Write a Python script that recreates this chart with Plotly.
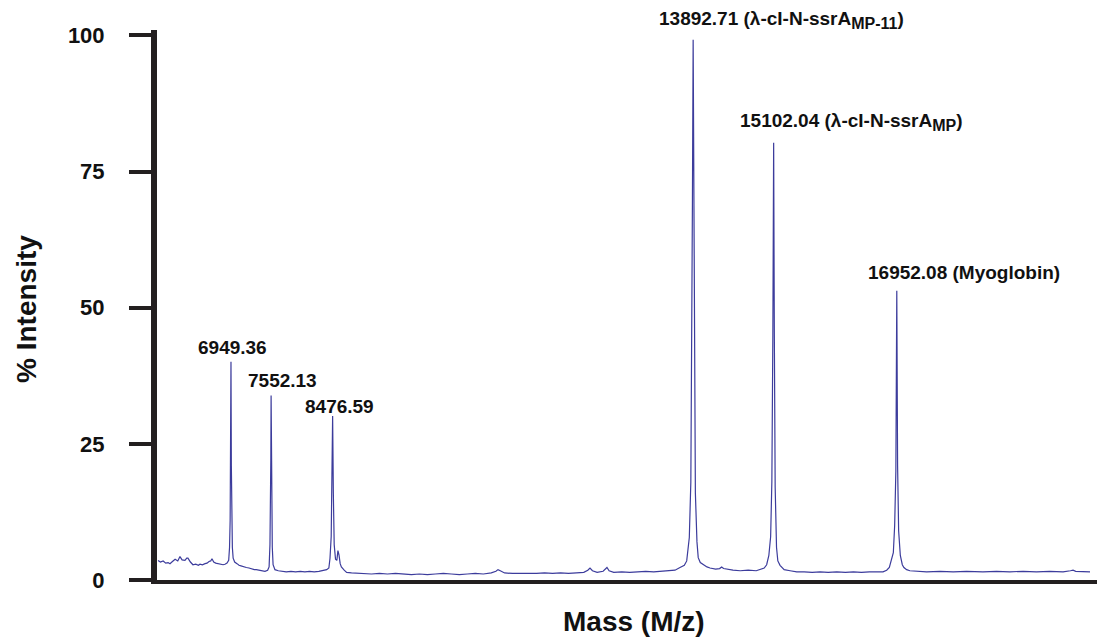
import plotly.graph_objects as go

# Spectrum: mass (Da) and % intensity
mass = [
    5853, 5890, 5930, 5970, 6005, 6033, 6070, 6110, 6150, 6183, 6215, 6258, 6285, 6303,
    6340, 6378, 6420, 6460, 6484, 6520, 6560, 6589, 6620, 6645, 6664, 6690, 6720, 6754,
    6790, 6830, 6859, 6890, 6915, 6928, 6937, 6943, 6949.36, 6955, 6961, 6970, 6982,
    7005, 7040, 7070, 7100, 7140, 7180, 7220, 7260, 7300, 7330, 7380, 7420, 7460, 7500,
    7522, 7535, 7544, 7548, 7552.13, 7557, 7562, 7570, 7582, 7610, 7660, 7720, 7780,
    7850, 7920, 7990, 8060, 8130, 8200, 8270, 8340, 8387, 8420, 8437, 8455, 8466,
    8476.59, 8487, 8500, 8520, 8540, 8556, 8572, 8590, 8608, 8650, 8687, 8760, 8860,
    8960, 9060, 9180, 9300, 9420, 9540, 9660, 9780, 9900, 10020, 10140, 10260, 10380,
    10500, 10620, 10740, 10860, 10930, 10961, 10995, 11060, 11180, 11300, 11420, 11540,
    11660, 11780, 11900, 12020, 12140, 12250, 12310, 12343, 12380, 12450, 12540, 12570,
    12598, 12630, 12700, 12820, 12940, 13060, 13180, 13300, 13420, 13540, 13620, 13695,
    13760, 13796, 13835, 13858, 13872, 13882, 13892.71, 13902, 13912, 13926, 13950,
    13969, 14000, 14045, 14100, 14146, 14230, 14290, 14321, 14350, 14420, 14491, 14600,
    14720, 14840, 14897, 14960, 14997, 15030, 15057, 15075, 15090, 15102.04, 15112,
    15125, 15145, 15165, 15198, 15260, 15349, 15449, 15560, 15680, 15800, 15920, 16050,
    16180, 16300, 16420, 16540, 16650, 16745, 16800, 16840, 16900, 16920, 16938,
    16952.08, 16964, 16980, 17005, 17035, 17059, 17100, 17149, 17260, 17400, 17601,
    17800, 18000, 18247, 18450, 18650, 18850, 19050, 19250, 19450, 19560, 19600,
    19640, 19750, 19855,
]
intensity = [
    3.6, 3.3, 3.5, 3.1, 3.2, 3.0, 3.4, 3.8, 3.5, 4.3, 3.7, 3.6, 4.0, 4.0,
    3.3, 2.8, 2.9, 2.7, 2.9, 2.8, 3.0, 3.1, 3.4, 3.5, 3.9, 3.3, 3.1, 3.0,
    2.9, 2.8, 2.9, 3.1, 3.6, 6.0, 11.0, 20.0, 40.1, 21.0, 11.0, 6.0, 4.0,
    3.3, 3.0, 2.7, 2.6, 2.4, 2.3, 2.2, 2.0, 1.9, 1.9, 1.8, 1.7, 1.6, 1.8,
    2.4, 6.5, 14.0, 22.0, 33.9, 21.0, 13.0, 6.0, 2.8, 1.9, 1.7, 1.6, 1.5,
    1.6, 1.5, 1.6, 1.5, 1.6, 1.5, 1.6, 1.7, 1.9, 2.2, 4.0, 8.0, 16.0,
    30.1, 16.0, 6.5, 3.8, 3.6, 5.4, 4.6, 3.0, 2.4, 1.8, 1.4, 1.3, 1.2,
    1.2, 1.1, 1.2, 1.1, 1.2, 1.1, 1.0, 1.1, 1.0, 1.1, 1.2, 1.1, 1.0,
    1.1, 1.2, 1.1, 1.3, 1.6, 1.9, 1.7, 1.3, 1.2, 1.2, 1.1, 1.2,
    1.3, 1.2, 1.3, 1.2, 1.3, 1.4, 1.8, 2.2, 1.7, 1.4, 1.6, 1.9,
    2.3, 1.7, 1.4, 1.5, 1.4, 1.5, 1.6, 1.5, 1.6, 1.7, 1.8, 2.3,
    2.7, 3.5, 7.8, 18.0, 40.0, 70.0, 99.2, 72.0, 42.0, 16.0, 7.0,
    4.1, 3.2, 2.8, 2.4, 2.2, 2.0, 2.1, 2.4, 2.1, 1.9, 1.8, 1.7,
    1.8, 1.7, 1.9, 2.2, 2.8, 4.5, 8.0, 18.0, 45.0, 80.3, 46.0,
    17.0, 6.0, 3.5, 2.7, 1.9, 1.7, 1.5, 1.5, 1.4, 1.5, 1.4, 1.5,
    1.4, 1.5, 1.4, 1.5, 1.5, 1.5, 1.8, 2.3, 5.0, 10.0, 20.0,
    53.1, 21.0, 9.0, 4.5, 2.8, 2.3, 1.9, 1.7, 1.6, 1.5, 1.6,
    1.5, 1.6, 1.5, 1.6, 1.5, 1.6, 1.5, 1.6, 1.5, 1.7, 1.8,
    1.6, 1.5, 1.5,
]

# Labelled peaks
peak_mass = [6949.36, 7552.13, 8476.59, 13892.71, 15102.04, 16952.08]
peak_height = [40.1, 33.9, 30.1, 99.2, 80.3, 53.1]
SUB = '<sub><span style="font-size:16px">{}</span></sub>'
peak_text = [
    "6949.36",
    "7552.13",
    "8476.59",
    "13892.71 (λ-cI-N-ssrA" + SUB.format("MP-11") + ")",
    "15102.04 (λ-cI-N-ssrA" + SUB.format("MP") + ")",
    "16952.08 (Myoglobin)",
]
label_anchor = ["center", "center", "center", "left", "left", "left"]
label_dx = [2, 11, 7, -36, -36, -31]
label_dy = [14, 15, 10, 20, 21, 18]

y_ticks = [0, 25, 50, 75, 100]

FONT = "Liberation Sans, Arial, sans-serif"
AXIS_COLOR = "#231f20"

fig = go.Figure()
fig.add_trace(go.Scatter(
    x=mass, y=intensity, mode="lines",
    line=dict(color="#3c3c9c", width=1.2),
    hoverinfo="skip", showlegend=False,
))

for m, h, t, a, dx, dy in zip(peak_mass, peak_height, peak_text, label_anchor, label_dx, label_dy):
    fig.add_annotation(
        x=m, y=h, text="<b>" + t + "</b>", showarrow=False,
        xanchor=a, yanchor="middle", xshift=dx, yshift=dy,
        font=dict(family=FONT, size=19, color="#111111"),
    )

fig.add_annotation(
    xref="paper", yref="paper", x=-0.137, y=0.493,
    text="<b>% Intensity</b>", textangle=-90, showarrow=False,
    xanchor="center", yanchor="middle",
    font=dict(family=FONT, size=28, color="#111111"),
)
fig.add_annotation(
    xref="paper", yref="paper", x=0.503, y=-0.075,
    text="<b>Mass (M/z)</b>", showarrow=False,
    xanchor="center", yanchor="middle",
    font=dict(family=FONT, size=28, color="#111111"),
)

# The page body adds an 8 px margin, so the figure is 8 px smaller and its margins 8 px narrower
fig.update_layout(
    width=1097, height=630,
    margin=dict(l=149, r=0, t=22, b=58),
    paper_bgcolor="white", plot_bgcolor="white",
    xaxis=dict(
        range=[5838, 20080], showgrid=False, zeroline=False,
        showline=True, linecolor=AXIS_COLOR, linewidth=4,
        showticklabels=False, ticks="",
    ),
    yaxis=dict(
        range=[0, 101], showgrid=False, zeroline=False,
        showline=True, linecolor=AXIS_COLOR, linewidth=6,
        tickmode="array", tickvals=y_ticks, ticktext=[str(v) for v in y_ticks],
        ticks="outside", ticklen=22, tickwidth=3.5, tickcolor=AXIS_COLOR,
        ticklabelstandoff=20,
        tickfont=dict(family=FONT, size=22, color="#111111", weight="bold"),
    ),
)

fig.write_html("out.html")
